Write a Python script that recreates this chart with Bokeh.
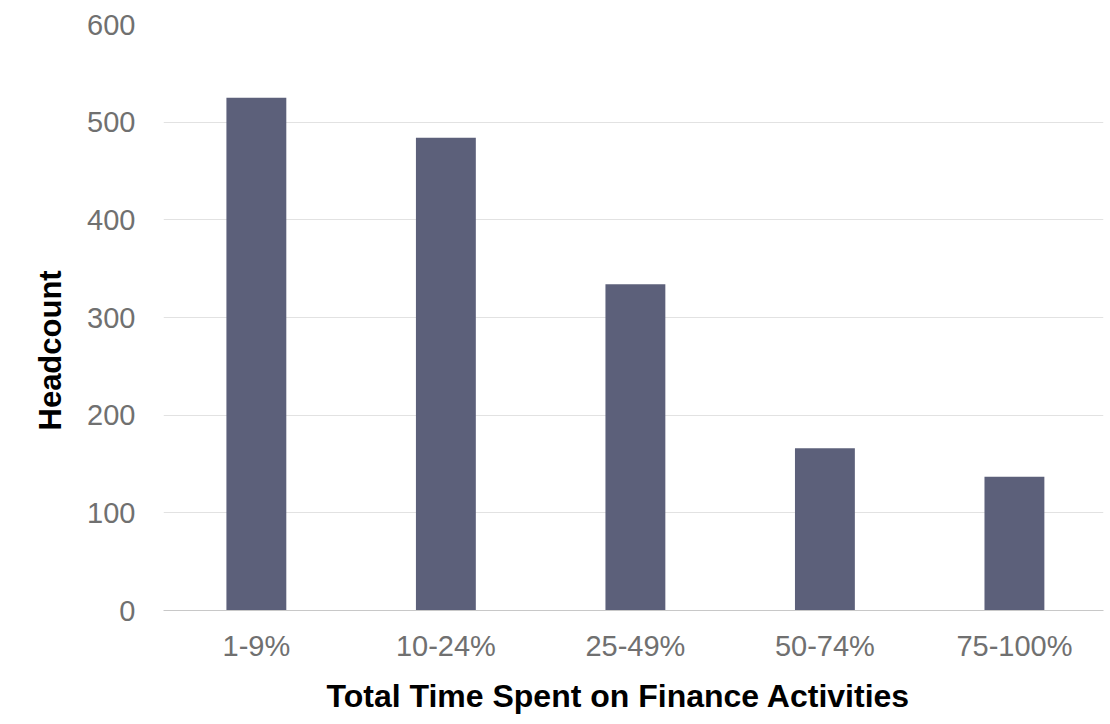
from bokeh.plotting import figure
from bokeh.models import Range1d, FixedTicker, Title, ColumnDataSource
from bokeh.embed import file_html
from bokeh.resources import INLINE

categories = ["1-9%", "10-24%", "25-49%", "50-74%", "75-100%"]
headcount = [525, 484, 334, 166, 137]
y_ticks = [0, 100, 200, 300, 400, 500, 600]
x_title = "Total Time Spent on Finance Activities"
y_title = "Headcount"

positions = list(range(len(categories)))
source = ColumnDataSource(dict(x=positions, top=headcount, cat=categories))

FONT = "Liberation Sans"
LABEL_COLOR = "#707070"

p = figure(width=1110, height=724, output_backend="svg", toolbar_location=None,
           x_range=Range1d(-0.49, 4.47), y_range=Range1d(0, 600),
           min_border_left=163, min_border_right=7, min_border_top=24,
           min_border_bottom=114)
p.background_fill_color = "white"
p.border_fill_color = "white"
p.outline_line_color = None

p.vbar(x="x", top="top", width=0.316, source=source,
       fill_color="#5c607a", line_color=None)

# grid
p.xgrid.visible = False
p.ygrid.ticker = FixedTicker(ticks=y_ticks)
p.ygrid.grid_line_color = "#e2e2e2"
p.ygrid.grid_line_width = 1

# y axis
p.yaxis.ticker = FixedTicker(ticks=y_ticks)
p.yaxis.axis_line_color = None
p.yaxis.major_tick_line_color = None
p.yaxis.minor_tick_line_color = None
p.yaxis.major_tick_out = 0
p.yaxis.major_tick_in = 0
p.yaxis.major_label_standoff = 28
p.yaxis.major_label_text_font = FONT
p.yaxis.major_label_text_font_size = "29px"
p.yaxis.major_label_text_color = LABEL_COLOR

# x axis
p.xaxis.ticker = FixedTicker(ticks=positions)
p.xaxis.major_label_overrides = {i: c for i, c in zip(positions, categories)}
p.xaxis.axis_line_color = "#c8c8c8"
p.xaxis.major_tick_line_color = None
p.xaxis.minor_tick_line_color = None
p.xaxis.major_tick_out = 0
p.xaxis.major_tick_in = 0
p.xaxis.major_label_standoff = 19
p.xaxis.major_label_text_font = FONT
p.xaxis.major_label_text_font_size = "29px"
p.xaxis.major_label_text_color = LABEL_COLOR

p.add_layout(Title(text=y_title, align="left", text_font=FONT,
                   text_font_size="31px", text_font_style="bold",
                   text_color="black", offset=180, standoff=34), "left")
p.add_layout(Title(text=x_title, align="left", text_font=FONT,
                   text_font_size="32px", text_font_style="bold",
                   text_color="black", offset=163, standoff=22), "below")

open("out.html", "w").write(file_html(p, INLINE))
